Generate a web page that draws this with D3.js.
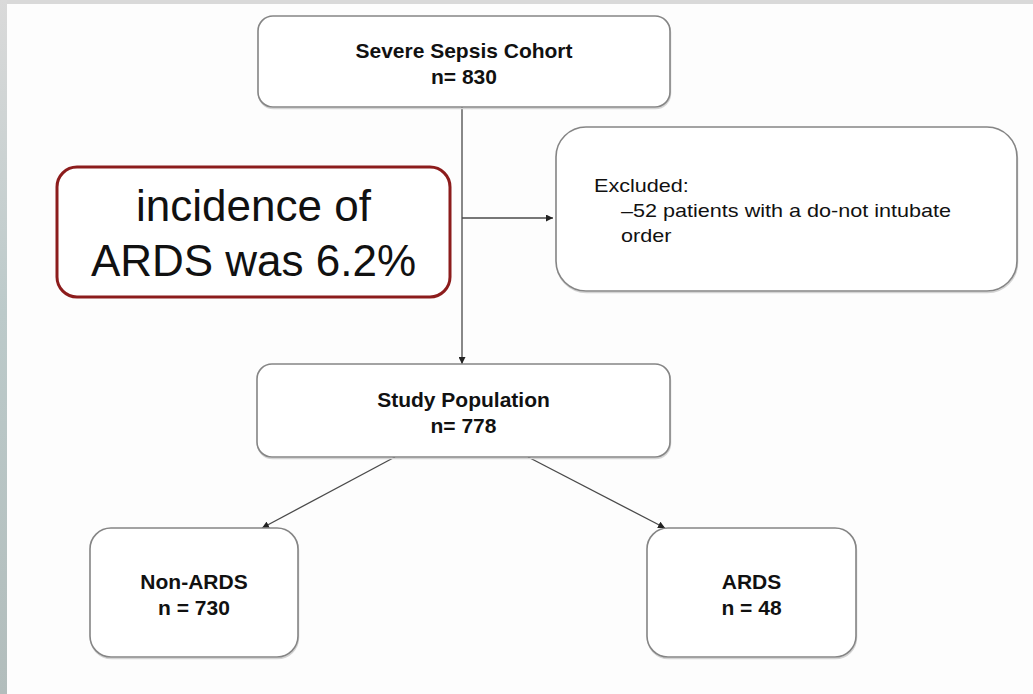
<!DOCTYPE html>
<html>
<head>
<meta charset="utf-8">
<script src="https://cdn.jsdelivr.net/npm/d3@7"></script>
<style>
  html, body { margin: 0; padding: 0; background: #fff; }
  svg { display: block; }
  .box { fill: #fff; stroke: #858585; stroke-width: 1.6; }
  .box-shadow { fill: none; stroke: #d4d4d4; stroke-width: 1.5; }
  .link { stroke: #4a4a4a; stroke-width: 1.3; fill: none; }
  .lbl { font-family: "Liberation Sans", Arial, sans-serif; fill: #111; }
</style>
</head>
<body>
<svg id="flow" width="1033" height="694"></svg>
<script>
// flow data
var nodeNames = ["Severe Sepsis Cohort", "Study Population", "Non-ARDS", "ARDS"];
var nodeCounts = [830, 778, 730, 48];
var countPrefix = ["n= ", "n= ", "n = ", "n = "];
var excludedLines = ["Excluded:", "\u201352 patients with a do-not intubate", "order"];
var calloutLines = ["incidence of", "ARDS was 6.2%"];

// layout of the boxes (x, y, w, h, corner)
var boxes = [
    {x: 258, y: 16,  w: 412, h: 91,  r: 15},
    {x: 257, y: 364, w: 413, h: 93,  r: 15},
    {x: 90,  y: 528, w: 208, h: 129, r: 21},
    {x: 647, y: 528, w: 209, h: 129, r: 21}
];
var excludedBox = {x: 556, y: 127, w: 461, h: 164, r: 30};
var calloutBox = {x: 57, y: 167, w: 393, h: 130, r: 20};

var svg = d3.select("#flow"),
    width = +svg.attr("width"),
    height = +svg.attr("height");

// frame
var defs = svg.append("defs");
var grad = defs.append("linearGradient")
    .attr("id", "edge")
    .attr("x1", 0).attr("y1", 0).attr("x2", 0).attr("y2", 1);
grad.append("stop").attr("offset", "0%").attr("stop-color", "#dadada");
grad.append("stop").attr("offset", "45%").attr("stop-color", "#bccaca");
grad.append("stop").attr("offset", "100%").attr("stop-color", "#b2bdbc");

defs.append("marker")
    .attr("id", "arrow")
    .attr("viewBox", "0 0 10 10")
    .attr("refX", 10).attr("refY", 5)
    .attr("markerWidth", 7).attr("markerHeight", 7)
    .attr("markerUnits", "userSpaceOnUse")
    .attr("orient", "auto")
    .append("path")
    .attr("d", "M0,0L10,5L0,10z")
    .attr("fill", "#222");

svg.append("rect").attr("x", 0).attr("y", 0).attr("width", width).attr("height", height).attr("fill", "#fdfdfd");
svg.append("rect").attr("x", 0).attr("y", 0).attr("width", width).attr("height", 4).attr("fill", "#d9d9d9");
svg.append("rect").attr("x", 0).attr("y", 0).attr("width", 7).attr("height", height).attr("fill", "url(#edge)");

// connectors
var b0 = boxes[0], b1 = boxes[1], b2 = boxes[2], b3 = boxes[3];
var stemX = 462;
var links = [
    [[stemX, b0.y + b0.h], [stemX, b1.y]],
    [[stemX, 218], [excludedBox.x - 3, 218]],
    [[395, b1.y + b1.h], [262, b2.y]],
    [[528, b1.y + b1.h], [665, b3.y]]
];
svg.append("g").selectAll("line")
    .data(links)
    .enter().append("line")
    .attr("class", "link")
    .attr("x1", function(d) { return d[0][0]; })
    .attr("y1", function(d) { return d[0][1]; })
    .attr("x2", function(d) { return d[1][0]; })
    .attr("y2", function(d) { return d[1][1]; })
    .attr("marker-end", "url(#arrow)");

// boxes
function drawBox(b) {
    svg.append("rect").attr("class", "box-shadow")
        .attr("x", b.x + 0.5).attr("y", b.y + 1.5)
        .attr("width", b.w).attr("height", b.h)
        .attr("rx", b.r).attr("ry", b.r);
    svg.append("rect").attr("class", "box")
        .attr("x", b.x).attr("y", b.y)
        .attr("width", b.w).attr("height", b.h)
        .attr("rx", b.r).attr("ry", b.r);
}
boxes.forEach(drawBox);
drawBox(excludedBox);

var node = svg.append("g").selectAll("g")
    .data(nodeNames)
    .enter().append("g")
    .attr("transform", function(d, i) {
        var b = boxes[i];
        return "translate(" + (b.x + b.w / 2) + "," + (b.y + b.h / 2) + ")";
    });

node.append("text")
    .attr("class", "lbl")
    .attr("text-anchor", "middle")
    .attr("font-weight", "bold")
    .attr("font-size", "21px")
    .attr("y", -4)
    .text(function(d) { return d; });

node.append("text")
    .attr("class", "lbl")
    .attr("text-anchor", "middle")
    .attr("font-weight", "bold")
    .attr("font-size", "21px")
    .attr("y", 22)
    .text(function(d, i) { return countPrefix[i] + nodeCounts[i]; });

// excluded text (slightly wide type, as in the slide)
var exG = svg.append("g")
    .attr("transform", "translate(594,0) scale(1.2,1)");
exG.selectAll("text")
    .data(excludedLines)
    .enter().append("text")
    .attr("class", "lbl")
    .attr("font-size", "18px")
    .attr("x", function(d, i) { return i ? (621 - 594) / 1.2 : 0; })
    .attr("y", function(d, i) { return 192 + i * 25; })
    .text(function(d) { return d; });

// callout
svg.append("rect")
    .attr("x", calloutBox.x).attr("y", calloutBox.y)
    .attr("width", calloutBox.w).attr("height", calloutBox.h)
    .attr("rx", calloutBox.r).attr("ry", calloutBox.r)
    .attr("fill", "#fff")
    .attr("stroke", "#8c1c1c")
    .attr("stroke-width", 3);

svg.append("g").selectAll("text")
    .data(calloutLines)
    .enter().append("text")
    .attr("class", "lbl")
    .attr("fill", "#000")
    .attr("text-anchor", "middle")
    .attr("font-size", "44px")
    .attr("x", calloutBox.x + calloutBox.w / 2)
    .attr("y", function(d, i) { return 221 + i * 55; })
    .text(function(d) { return d; });
</script>
</body>
</html>
